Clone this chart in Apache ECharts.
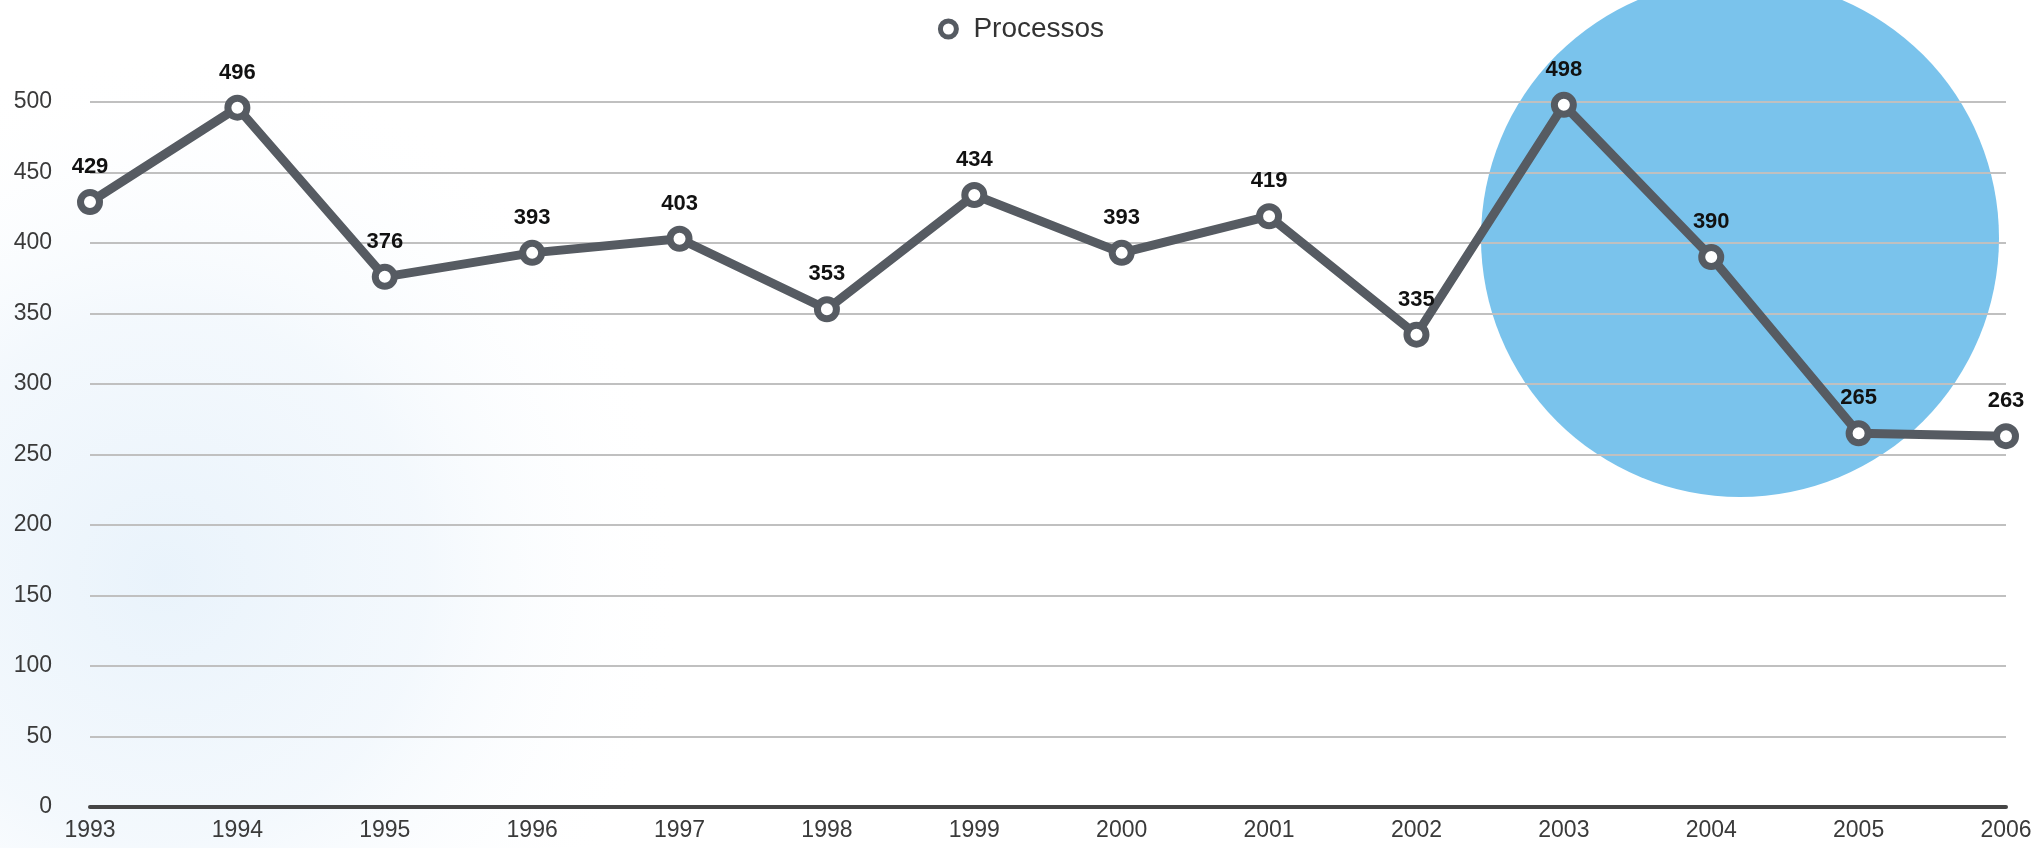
<!DOCTYPE html>
<html>
<head>
<meta charset="utf-8">
<script src="https://cdn.jsdelivr.net/npm/echarts@6/dist/echarts.min.js"></script>
<style>
  html, body { margin: 0; padding: 0; background: #ffffff; }
  #chart { width: 2042px; height: 848px; }
</style>
</head>
<body>
<div id="chart"></div>
<script>
// Yearly count of processes, 1993–2006
const years = ['1993', '1994', '1995', '1996', '1997', '1998', '1999',
               '2000', '2001', '2002', '2003', '2004', '2005', '2006'];
const processos = [429, 496, 376, 393, 403, 353, 434, 393, 419, 335, 498, 390, 265, 263];
const seriesName = 'Processos';

const chart = echarts.init(document.getElementById('chart'), null, { renderer: 'canvas' });

const FONT = '"Liberation Sans", Arial, Helvetica, sans-serif';
const LINE_COLOR = '#565b62';

chart.setOption({
  backgroundColor: '#ffffff',
  animation: false,
  graphic: [
    // soft bluish glow on the lower left
    {
      type: 'rect',
      z: -100,
      silent: true,
      shape: { x: 0, y: 0, width: 2042, height: 848 },
      style: {
        fill: new echarts.graphic.RadialGradient(0.08, 0.68, 0.62, [
          { offset: 0, color: 'rgba(226,239,250,0.75)' },
          { offset: 0.5, color: 'rgba(232,242,251,0.5)' },
          { offset: 1, color: 'rgba(255,255,255,0)' }
        ])
      }
    },
    // highlight disc behind the 2003–2005 segment
    {
      type: 'circle',
      z: -50,
      silent: true,
      shape: { cx: 1740, cy: 238, r: 259 },
      style: { fill: '#7ac3ec' }
    }
  ],
  legend: {
    data: [{ name: seriesName, icon: 'circle' }],
    top: 10,
    left: 'center',
    itemWidth: 16,
    itemHeight: 16,
    itemGap: 22,
    itemStyle: { color: '#ffffff', borderColor: LINE_COLOR, borderWidth: 5 },
    textStyle: { fontFamily: FONT, fontSize: 28, color: '#333', padding: [0, 0, 0, 12] }
  },
  grid: { left: 90, right: 36, top: 102, bottom: 41, containLabel: false },
  xAxis: {
    type: 'category',
    data: years,
    boundaryGap: false,
    axisLine: { lineStyle: { color: '#454545', width: 4 } },
    axisTick: { show: false },
    axisLabel: { fontFamily: FONT, fontSize: 23, color: '#3a3a3a', margin: 12 },
    splitLine: { show: false }
  },
  yAxis: {
    type: 'value',
    min: 0,
    max: 500,
    interval: 50,
    axisLine: { show: false },
    axisTick: { show: false },
    axisLabel: { fontFamily: FONT, fontSize: 23, color: '#3a3a3a', margin: 38 },
    splitLine: { lineStyle: { color: '#c0c0c0', width: 2 } }
  },
  series: [{
    name: seriesName,
    type: 'line',
    data: processos,
    symbol: 'circle',
    symbolSize: 19,
    lineStyle: { color: LINE_COLOR, width: 9 },
    itemStyle: { color: '#ffffff', borderColor: LINE_COLOR, borderWidth: 7 },
    label: {
      show: true,
      position: 'top',
      distance: 11,
      fontFamily: FONT,
      fontSize: 22,
      fontWeight: 'bold',
      color: '#111'
    },
    z: 5
  }]
});
</script>
</body>
</html>
